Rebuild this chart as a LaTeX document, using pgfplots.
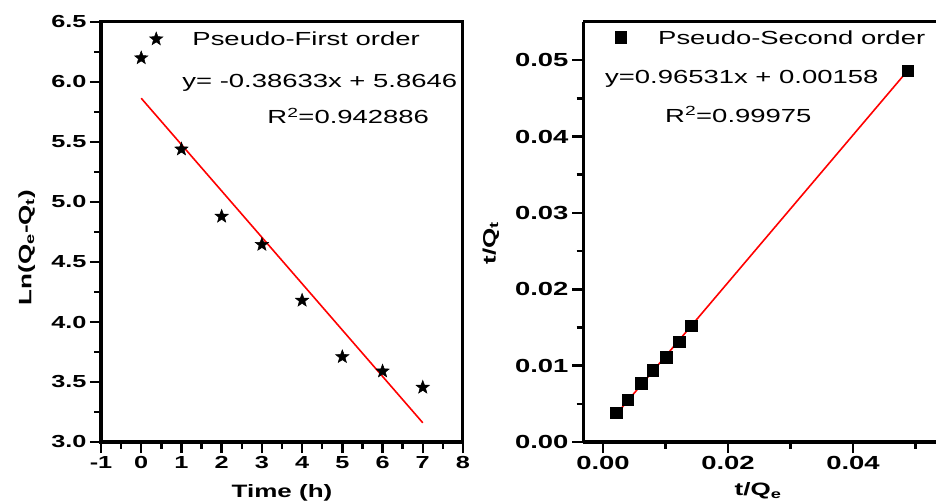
\documentclass[border=0pt]{standalone}
\usepackage{fontspec}
\setmainfont{Liberation Sans}[FakeStretch=1.45]
\usepackage{pgfplots}
\pgfplotsset{compat=1.18}
\newcommand\ftickL{\fontsize{17.5}{20}\selectfont\bfseries}
\newcommand\ftickR{\fontsize{19}{22}\selectfont\bfseries}
\newcommand\flab{\fontsize{18}{21}\selectfont\bfseries}
\newcommand\fann{\fontsize{19}{22}\selectfont}
\pgfdeclareplotmark{fstar}{%
  \pgfpathmoveto{\pgfpointpolar{90}{\pgfplotmarksize}}%
  \pgfpathlineto{\pgfpointpolar{126}{0.42\pgfplotmarksize}}%
  \pgfpathlineto{\pgfpointpolar{162}{\pgfplotmarksize}}%
  \pgfpathlineto{\pgfpointpolar{198}{0.42\pgfplotmarksize}}%
  \pgfpathlineto{\pgfpointpolar{234}{\pgfplotmarksize}}%
  \pgfpathlineto{\pgfpointpolar{270}{0.42\pgfplotmarksize}}%
  \pgfpathlineto{\pgfpointpolar{306}{\pgfplotmarksize}}%
  \pgfpathlineto{\pgfpointpolar{342}{0.42\pgfplotmarksize}}%
  \pgfpathlineto{\pgfpointpolar{18}{\pgfplotmarksize}}%
  \pgfpathlineto{\pgfpointpolar{54}{0.42\pgfplotmarksize}}%
  \pgfpathclose
  \pgfusepathqfillstroke
}
\pgfplotsset{
  kin/.style={
    scale only axis, height=420bp,
    axis line style={line width=3bp,-},
    tick style={line width=2.5bp, black},
    major tick length=11bp, minor tick length=6.5bp,
    tick align=outside,
    xtick pos=left, ytick pos=left,
    clip=false,
  }
}
\begin{document}
\begin{tikzpicture}
\path[use as bounding box] (0,0) rectangle (936bp,504bp);
% ---------- left panel
\begin{axis}[kin,
  at={(101bp,62bp)}, anchor=south west, width=362bp,
  xmin=-1, xmax=8, ymin=3, ymax=6.5,
  xtick={-1,0,1,2,3,4,5,6,7,8},
  xticklabels={-1,0,1,2,3,4,5,6,7,8},
  ytick={3,3.5,4,4.5,5,5.5,6,6.5},
  yticklabels={3.0,3.5,4.0,4.5,5.0,5.5,6.0,6.5},
  minor x tick num=1, minor y tick num=1,
  tick label style={font=\ftickL},
  xlabel={Time (h)}, ylabel={Ln(Q\textsubscript{e}-Q\textsubscript{t})},
  every axis x label/.style={at={(axis description cs:0.5,-0.121)}, anchor=center, font=\flab},
  every axis y label/.style={at={(axis description cs:-0.205,0.463)}, rotate=90, anchor=center, font=\flab},
]
\addplot[only marks, black, mark=fstar, mark size=7bp, mark options={fill=black, line width=0.5bp}]
  coordinates {(0,6.20) (1,5.44) (2,4.88) (3,4.645) (4,4.18) (5,3.71) (6,3.59) (7,3.455)};
\addplot[only marks, black, mark=fstar, mark size=7bp, mark options={fill=black, line width=0.5bp}]
  coordinates {(0.373,6.358)};
\addplot[red, line width=1.6bp, no markers] coordinates {(0,5.8646) (7,3.16029)};
\node[anchor=base west, inner sep=0pt, font=\fann] at (axis cs:1.269,6.308) {Pseudo-First order};
\node[anchor=base west, inner sep=0pt, font=\fann] at (axis cs:1.02,5.956) {y= -0.38633x + 5.8646};
\node[anchor=base west, inner sep=0pt, font=\fann] at (axis cs:3.134,5.65) {R\textsuperscript{2}=0.942886};
\end{axis}
% ---------- right panel
\begin{axis}[kin,
  at={(583bp,62bp)}, anchor=south west, width=353bp,
  axis x line*=box, axis y line*=left,
  xmin=-0.0032, xmax=0.05328, ymin=0, ymax=0.055,
  scaled ticks=false,
  xtick={0,0.02,0.04}, xticklabels={0.00,0.02,0.04},
  minor xtick={0.01,0.03,0.05},
  ytick={0,0.01,0.02,0.03,0.04,0.05},
  yticklabels={0.00,0.01,0.02,0.03,0.04,0.05},
  minor ytick={0.005,0.015,0.025,0.035,0.045},
  tick label style={font=\ftickR},
  xlabel={t/Q\textsubscript{e}}, ylabel={t/Q\textsubscript{t}},
  every axis x label/.style={at={(axis description cs:0.496,-0.117)}, anchor=center, font=\flab},
  every axis y label/.style={at={(axis description cs:-0.261,0.474)}, rotate=90, anchor=center, font=\flab},
]
\addplot[only marks, black, mark=square*, mark size=5.6bp, mark options={fill=black}]
  coordinates {(0.0021,0.0038) (0.0040,0.0055) (0.0061,0.0077) (0.0080,0.0094)
               (0.0101,0.0111) (0.0122,0.0131) (0.0141,0.0152) (0.0488,0.0486)};
\addplot[only marks, black, mark=square*, mark size=5.6bp, mark options={fill=black}]
  coordinates {(0.00288,0.0530)};
\addplot[red, line width=1.6bp, no markers] coordinates {(0.0021,0.0036072) (0.0488,0.0486871)};
\node[anchor=base west, inner sep=0pt, font=\fann] at (axis cs:0.0088,0.0521) {Pseudo-Second order};
\node[anchor=base west, inner sep=0pt, font=\fann] at (axis cs:0.00032,0.0470) {y=0.96531x + 0.00158};
\node[anchor=base west, inner sep=0pt, font=\fann] at (axis cs:0.00992,0.0419) {R\textsuperscript{2}=0.99975};
\end{axis}
\end{tikzpicture}
\end{document}
